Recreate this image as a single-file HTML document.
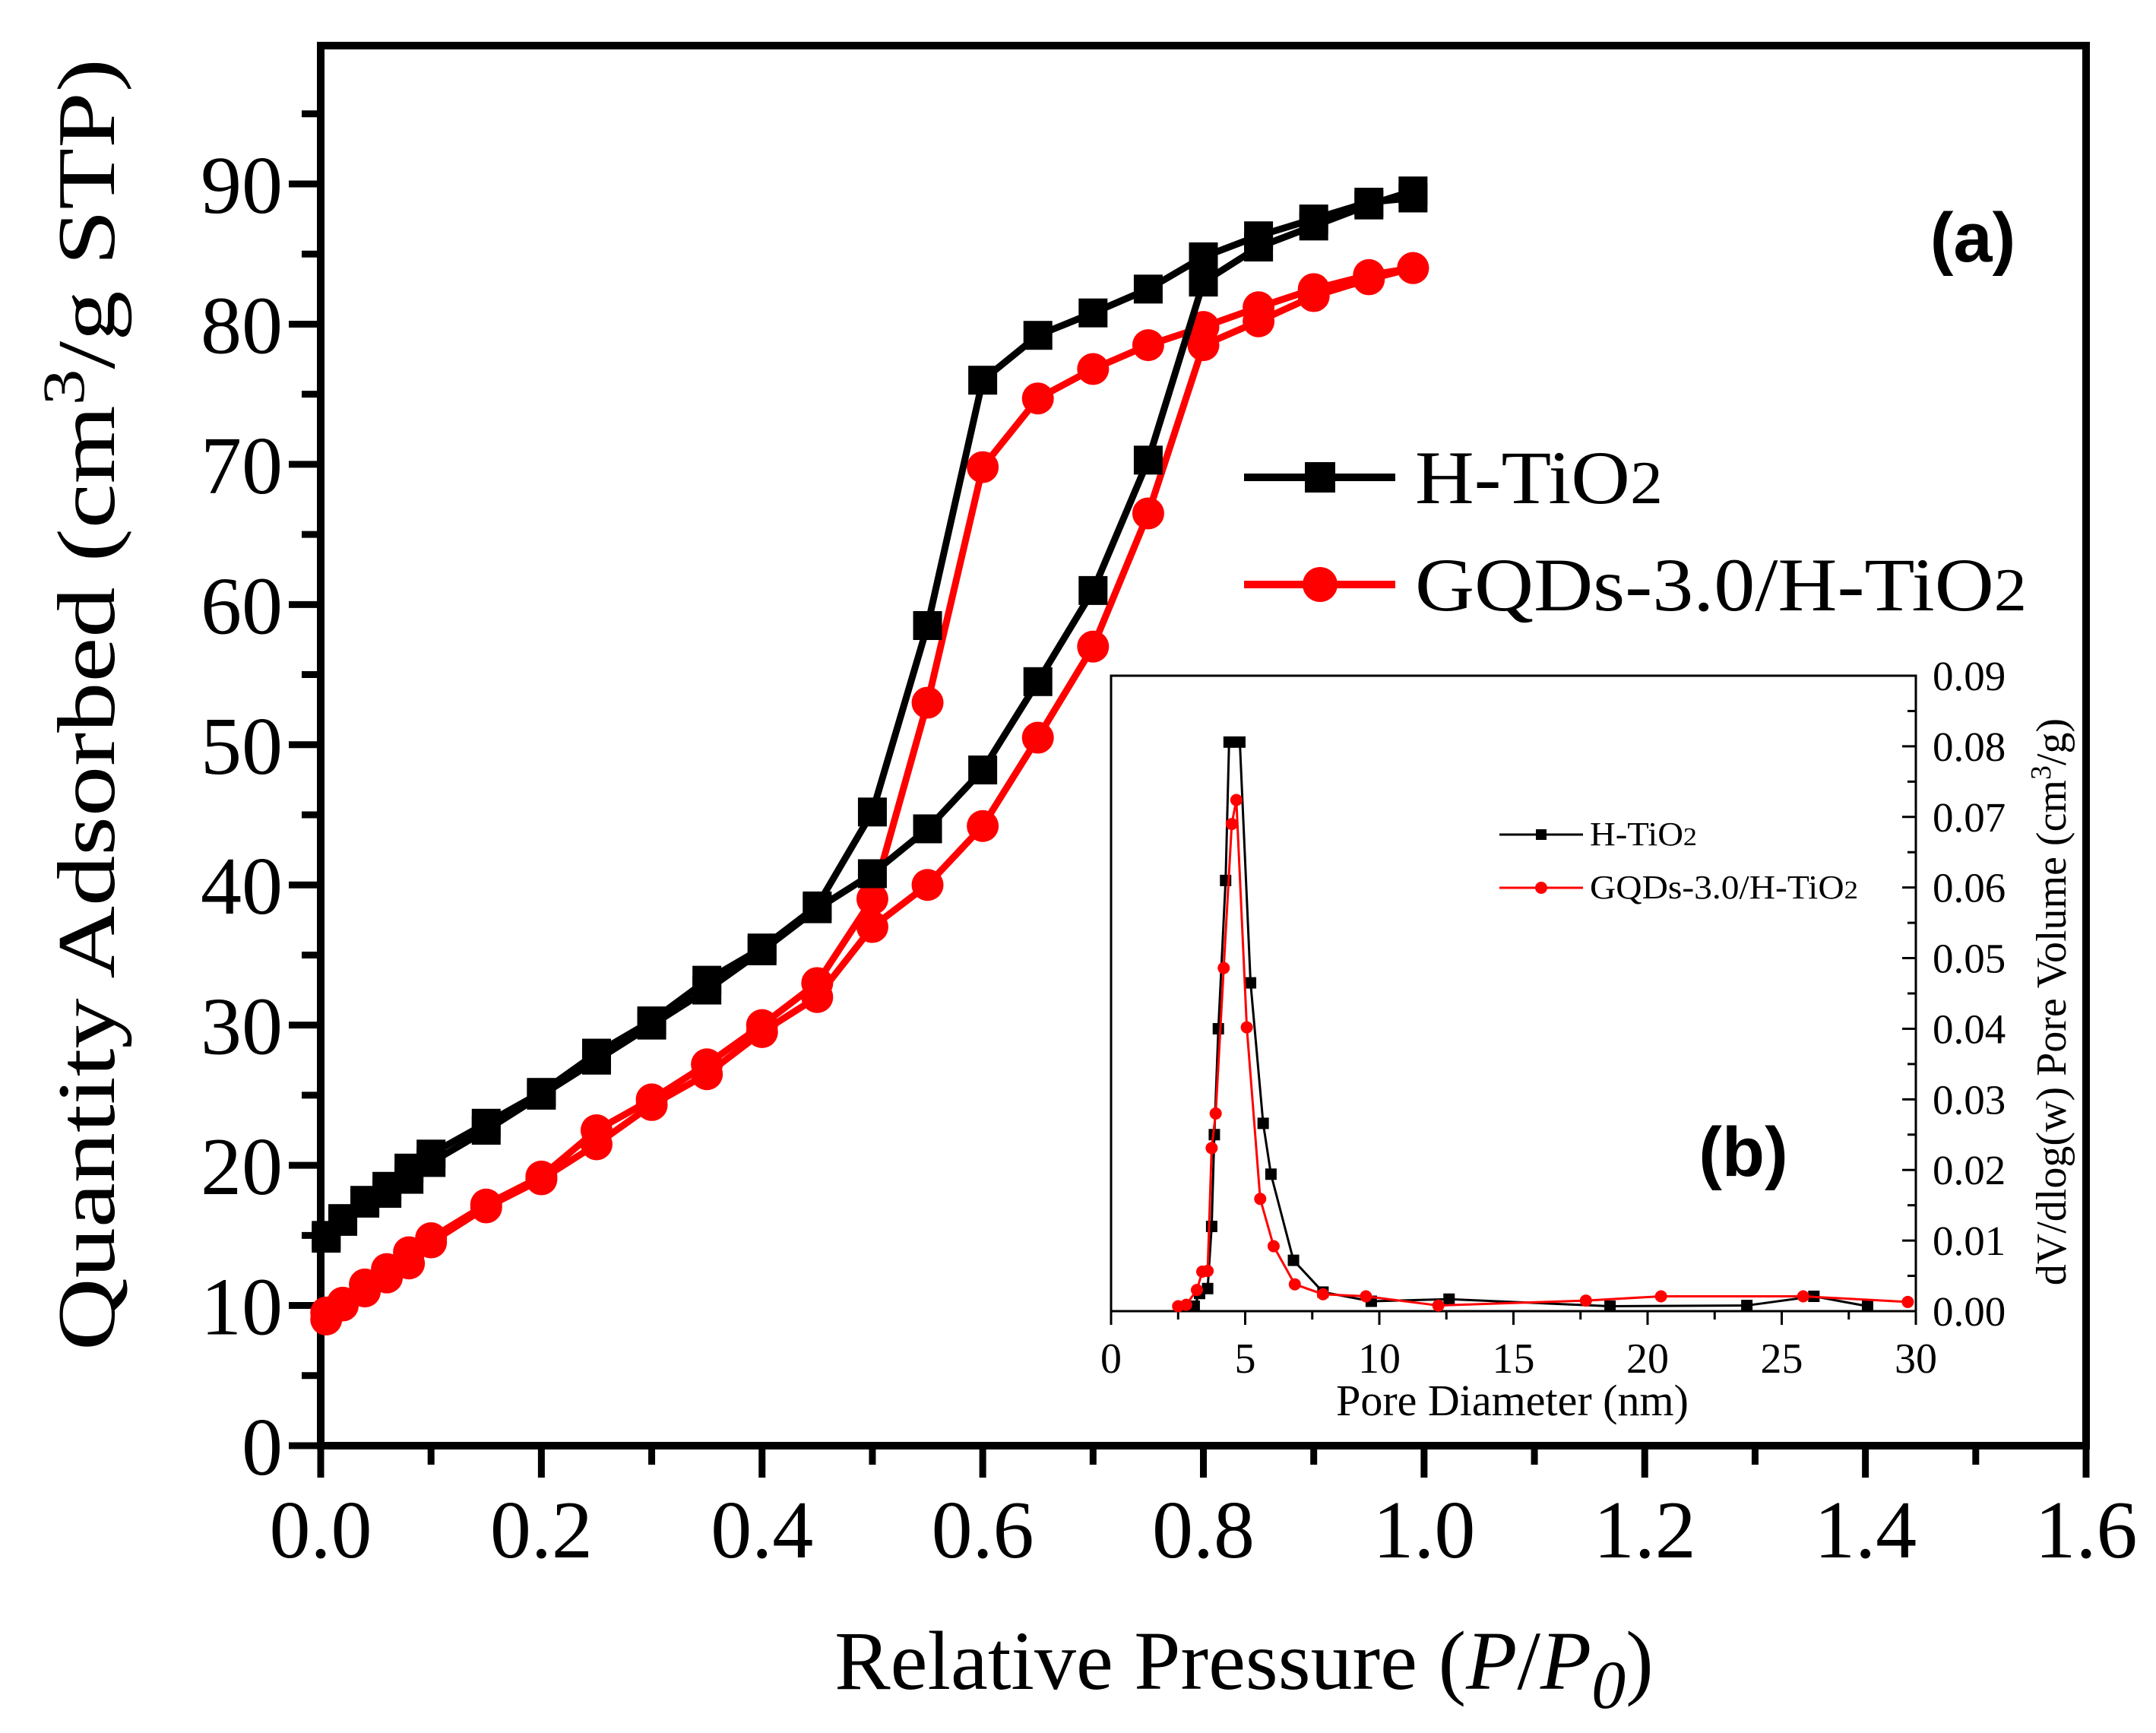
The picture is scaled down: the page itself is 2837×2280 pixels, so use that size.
<!DOCTYPE html>
<html><head><meta charset="utf-8"><style>
html,body{margin:0;padding:0;background:#fff;}
svg{display:block;}
text{font-family:"Liberation Serif",serif;}
</style></head><body>
<svg id="chart" width="2837" height="2280" viewBox="0 0 2837 2280" xmlns="http://www.w3.org/2000/svg">
<rect x="0" y="0" width="2837" height="2280" fill="#fff"/>
<g id="main"></g>
<g id="inset"></g>
</svg>
<script>
// ---- main chart data ----
const pressureAds = [0.005,0.02,0.04,0.06,0.08,0.1,0.15,0.2,0.25,0.3,0.35,0.4,0.45,0.5,0.55,0.6,0.65,0.7,0.75,0.8,0.85,0.9,0.95,0.99];
const pressureDes = [0.99,0.95,0.9,0.85,0.8,0.75,0.7,0.65,0.6,0.55,0.5,0.45,0.4,0.35,0.3,0.25,0.2,0.15,0.1,0.08,0.06,0.04,0.02,0.005];
const htioAds = [14.8,16,17.3,18,19,20.2,22.5,25,27.5,30,32.5,35.3,38.3,40.8,44,48.2,54.5,61,70.3,83,85.5,87,88.5,89.5];
const htioDes = [89,88.7,87.5,86.3,84.8,82.5,80.8,79.2,76,58.5,45.2,38.5,35.5,33.2,30.3,28,25.2,23,20.8,19.8,18.5,17.5,16.2,15];
const gqdAds = [9,10,11,12,13,14.5,17,19,21.5,24.3,26.5,29.5,32,37,40,44.2,50.5,57,66.5,78.5,80.2,82,83.2,84];
const gqdDes = [84,83.5,82.5,81.2,79.8,78.5,76.8,74.7,69.8,53,39,33,30,27.2,24.7,22.5,19.2,17.2,14.8,13.8,12.6,11.5,10.2,9.5];
const xTickLabels = ["0.0","0.2","0.4","0.6","0.8","1.0","1.2","1.4","1.6"];
const yTickLabels = ["0","10","20","30","40","50","60","70","80","90"];
// ---- inset data ----
const poreHtio = [3.1,3.3,3.6,3.75,3.85,4.0,4.27,4.4,4.8,5.2,5.67,5.96,6.8,7.9,9.7,12.6,18.6,23.7,26.2,28.2];
const volHtio = [0.0007,0.0025,0.0032,0.012,0.025,0.040,0.061,0.0806,0.0806,0.0465,0.0266,0.0194,0.0072,0.0027,0.0014,0.0017,0.0007,0.0008,0.0021,0.0007];
const poreGqd = [2.5,2.8,3.2,3.4,3.6,3.75,3.9,4.2,4.5,4.67,5.06,5.56,6.06,6.85,7.9,9.5,12.2,17.7,20.5,25.8,29.7];
const volGqd = [0.0007,0.0009,0.003,0.0056,0.0057,0.0231,0.028,0.0486,0.069,0.0724,0.0402,0.0159,0.0092,0.0038,0.0024,0.0021,0.0008,0.0015,0.0021,0.0021,0.0013];
const insetXTickLabels = ["0","5","10","15","20","25","30"];
const insetYTickLabels = ["0.00","0.01","0.02","0.03","0.04","0.05","0.06","0.07","0.08","0.09"];

const NS="http://www.w3.org/2000/svg";
function mk(parent,tag,attrs,txt){const e=document.createElementNS(NS,tag);for(const k in attrs)e.setAttribute(k,attrs[k]);if(txt!==undefined)e.textContent=txt;parent.appendChild(e);return e;}

// main axes
const L=422,R=2745,T=60,B=1902;
const X=v=>L+v/1.6*(R-L);
const Y=v=>B-v/90*(B-242);
const main=document.getElementById('main');

const frame=mk(main,'rect',{x:L,y:T,width:R-L,height:B-T,fill:'none',stroke:'#000','stroke-width':10});



for(let i=0;i<=16;i++){
  const v=i*0.1, major=i%2===0;
  const t=mk(main,'line',{x1:X(v),x2:X(v),y1:B,y2:B+(major?42:25),stroke:'#000','stroke-width':9});
  
  
}
xTickLabels.forEach(s=>{
  const t=mk(main,'text',{x:X(parseFloat(s)),y:2049,'font-size':108,'text-anchor':'middle'},s);
  
  
});
for(let i=0;i<=19;i++){
  const v=i*5, major=i%2===0;
  const t=mk(main,'line',{x1:L,x2:L-(major?42:25),y1:Y(v),y2:Y(v),stroke:'#000','stroke-width':9});
  
  
}
yTickLabels.forEach(s=>{
  const t=mk(main,'text',{x:372,y:Y(parseFloat(s))+38,'font-size':108,'text-anchor':'end'},s);
  
  
});
const xt=mk(main,'text',{x:1637,y:2222,'font-size':110,'text-anchor':'middle'});


xt.innerHTML='Relative Pressure (<tspan font-style="italic">P</tspan>/<tspan font-style="italic">P</tspan><tspan font-style="italic" dy="25" font-size="90">0</tspan><tspan dy="-25">)</tspan>';
const yt=mk(main,'text',{x:0,y:0,'font-size':108,'text-anchor':'middle',textLength:1700,lengthAdjust:'spacingAndGlyphs',transform:'translate(150,927) rotate(-90)'});


yt.innerHTML='Quantity Adsorbed (cm<tspan dy="-40" font-size="78">3</tspan><tspan dy="40">/g STP)</tspan>';

function series(parent,xs,ys,xf,yf,color,marker,sz,lw,name){
  const g=mk(parent,'g',{});
  
  
  const pts=xs.map((x,i)=>xf(x)+','+yf(ys[i])).join(' ');
  mk(g,'polyline',{points:pts,fill:'none',stroke:color,'stroke-width':lw,'stroke-linejoin':'round'});
  xs.forEach((x,i)=>{
    let m;
    if(marker==='sq') m=mk(g,'rect',{x:xf(x)-sz/2,y:yf(ys[i])-sz/2,width:sz,height:sz,fill:color});
    else m=mk(g,'circle',{cx:xf(x),cy:yf(ys[i]),r:sz/2,fill:color});
    
    
  });
}
series(main,pressureAds,gqdAds,X,Y,'#ff0000','ci',42,9,'gqd-adsorption-series');
series(main,pressureDes,gqdDes,X,Y,'#ff0000','ci',42,9,'gqd-desorption-series');
series(main,pressureAds,htioAds,X,Y,'#000','sq',38,9,'htio-adsorption-series');
series(main,pressureDes,htioDes,X,Y,'#000','sq',38,9,'htio-desorption-series');

const lg=mk(main,'g',{});


mk(lg,'line',{x1:1637,x2:1836,y1:628,y2:628,stroke:'#000','stroke-width':10});
mk(lg,'rect',{x:1717,y:608,width:40,height:40,fill:'#000'});
const l1=mk(lg,'text',{x:1862,y:662,'font-size':100,textLength:326,lengthAdjust:'spacingAndGlyphs'});


l1.innerHTML='H-TiO<tspan font-size="80">2</tspan>';
mk(lg,'line',{x1:1637,x2:1836,y1:769,y2:769,stroke:'#ff0000','stroke-width':10});
mk(lg,'circle',{cx:1737,cy:769,r:23,fill:'#ff0000'});
const l2=mk(lg,'text',{x:1862,y:803,'font-size':100,textLength:805,lengthAdjust:'spacingAndGlyphs'});


l2.innerHTML='GQDs-3.0/H-TiO<tspan font-size="80">2</tspan>';

const pa=mk(main,'text',{x:2596,y:344,'font-size':92,'font-weight':'bold','text-anchor':'middle',style:'font-family:"Liberation Sans",sans-serif'},'(a)');



// ---- inset ----
const IL=1462,IR=2521,IT=889,IB=1725;
const IX=v=>IL+v/30*(IR-IL);
const IY=v=>IB-v/0.09*(IB-IT);
const inset=document.getElementById('inset');
const ib=mk(inset,'rect',{x:IL,y:IT,width:IR-IL,height:IB-IT,fill:'#fff',stroke:'#000','stroke-width':3});


for(let i=0;i<=12;i++){
  const v=i*2.5, major=i%2===0;
  const t=mk(inset,'line',{x1:IX(v),x2:IX(v),y1:IB,y2:IB+(major?18:11),stroke:'#000','stroke-width':3});
  
  
}
insetXTickLabels.forEach(s=>{
  const t=mk(inset,'text',{x:IX(parseFloat(s)),y:1806,'font-size':56,'text-anchor':'middle'},s);
  
  
});
for(let i=0;i<=18;i++){
  const v=i*0.005, major=i%2===0;
  const t=mk(inset,'line',{x1:IR,x2:IR-(major?18:11),y1:IY(v),y2:IY(v),stroke:'#000','stroke-width':3});
  
  
}
insetYTickLabels.forEach(s=>{
  const t=mk(inset,'text',{x:2543,y:IY(parseFloat(s))+19,'font-size':55},s);
  
  
});
const ixt=mk(inset,'text',{x:1990,y:1862,'font-size':58,'text-anchor':'middle'},'Pore Diameter (nm)');


const iyt=mk(inset,'text',{x:0,y:0,'font-size':56,'text-anchor':'middle',transform:'translate(2718,1318) rotate(-90)'});


iyt.innerHTML='dV/dlog(w) Pore Volume (cm<tspan dy="-20" font-size="38">3</tspan><tspan dy="20">/g)</tspan>';

series(inset,poreHtio,volHtio,IX,IY,'#000','sq',15,3,'inset-htio-series');
series(inset,poreGqd,volGqd,IX,IY,'#ff0000','ci',16,3,'inset-gqd-series');

const il=mk(inset,'g',{});


mk(il,'line',{x1:1973,x2:2083,y1:1098,y2:1098,stroke:'#000','stroke-width':3});
mk(il,'rect',{x:2021,y:1091,width:14,height:14,fill:'#000'});
const il1=mk(il,'text',{x:2092,y:1112,'font-size':44,textLength:141,lengthAdjust:'spacingAndGlyphs'});


il1.innerHTML='H-TiO<tspan font-size="34">2</tspan>';
mk(il,'line',{x1:1973,x2:2083,y1:1168,y2:1168,stroke:'#ff0000','stroke-width':3});
mk(il,'circle',{cx:2028,cy:1168,r:8,fill:'#ff0000'});
const il2=mk(il,'text',{x:2092,y:1182,'font-size':44,textLength:353,lengthAdjust:'spacingAndGlyphs'});


il2.innerHTML='GQDs-3.0/H-TiO<tspan font-size="34">2</tspan>';

const pb=mk(inset,'text',{x:2294,y:1547,'font-size':92,'font-weight':'bold','text-anchor':'middle',style:'font-family:"Liberation Sans",sans-serif'},'(b)');


</script>
</body></html>
